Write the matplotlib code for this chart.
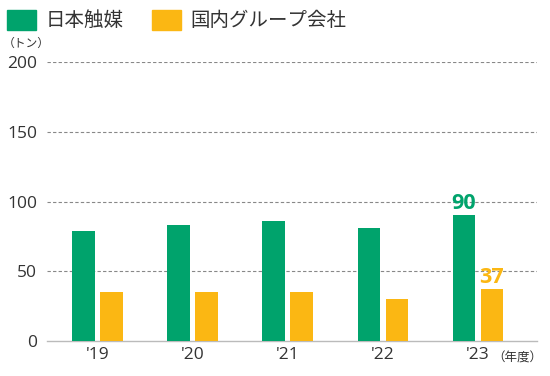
import matplotlib
matplotlib.use("Agg")
import matplotlib.pyplot as plt
import numpy as np
from matplotlib.patches import Rectangle

plt.rcParams['font.family'] = ['Noto Sans CJK JP', 'DejaVu Sans']
num_font = ['Open Sans', 'Noto Sans CJK JP']

years = ["'19", "'20", "'21", "'22", "'23"]
nippon_shokubai = [79, 83, 86, 81, 90]
domestic_group = [35, 35, 35, 30, 37]
series_names = ["日本触媒", "国内グループ会社"]
yticks = [0, 50, 100, 150, 200]

green = "#00a36c"
orange = "#fbb713"
txt = "#333333"

fig = plt.figure(figsize=(5.5, 3.76), dpi=100)
ax = fig.add_axes([0.0855, 0.0931, 0.8905, 0.7419])

x = np.arange(len(years))
w = 0.235
off = 0.147
ax.bar(x - off, nippon_shokubai, width=w, color=green, zorder=3)
ax.bar(x + off, domestic_group, width=w, color=orange, zorder=3)

ax.set_xlim(-0.53, 4.62)
ax.set_ylim(0, 200)
ax.set_yticks(yticks)
ax.set_yticklabels([str(t) for t in yticks], fontsize=12.5, color=txt, family=num_font)
ax.set_xticks(x)
ax.set_xticklabels(years, fontsize=12.5, color=txt, family=num_font)
ax.tick_params(axis='x', length=0, pad=4)
ax.tick_params(axis='y', length=0, pad=7)

for t in yticks[1:]:
    ax.axhline(t, color="#888888", lw=0.8, ls=(0, (3, 2)), zorder=1)
for s in ['top', 'right', 'left']:
    ax.spines[s].set_visible(False)
ax.spines['bottom'].set_color("#bbbbbb")
ax.spines['bottom'].set_linewidth(1.0)

# annotations
ax.text(x[-1] - off, nippon_shokubai[-1] + 1.0, str(nippon_shokubai[-1]), color=green,
        fontsize=15.5, fontweight='bold', ha='center', va='bottom', family=num_font)
ax.text(x[-1] + off, domestic_group[-1] + 1.0, str(domestic_group[-1]), color=orange,
        fontsize=15.5, fontweight='bold', ha='center', va='bottom', family=num_font)

# legend
fig.patches.append(Rectangle((7/550, 1 - 30/376), 29/550, 20/376, transform=fig.transFigure,
                             color=green))
fig.text(46/550, 1 - 20/376, series_names[0], fontsize=14, va='center', ha='left', color=txt)
fig.patches.append(Rectangle((152/550, 1 - 30/376), 29/550, 20/376, transform=fig.transFigure,
                             color=orange))
fig.text(190/550, 1 - 20/376, series_names[1], fontsize=14, va='center', ha='left', color=txt)

fig.text(3/550, 1 - 43/376, "（トン）", fontsize=8.5, va='center', ha='left', color=txt)
fig.text(492/550, 1 - 358/376, "（年度）", fontsize=9, va='center', ha='left', color=txt)

fig.savefig("out.png", dpi=100)
